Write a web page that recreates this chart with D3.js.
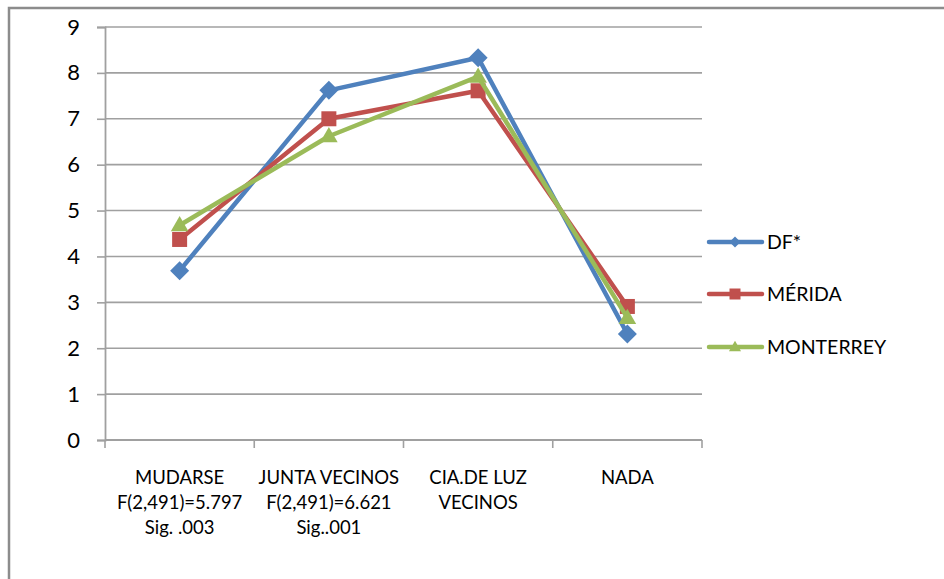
<!DOCTYPE html>
<html>
<head>
<meta charset="utf-8">
<script src="https://cdnjs.cloudflare.com/ajax/libs/d3/7.8.5/d3.min.js"></script>
<style>
  html, body { margin: 0; padding: 0; background: #ffffff; }
  svg { display: block; }
  text { font-family: Lato, "Open Sans", sans-serif; fill: #000; }
</style>
</head>
<body>
<svg id="chart" width="944" height="579"></svg>
<script>
// Category labels (multi-line, one array per category)
const categories = ["MUDARSE", "JUNTA VECINOS", "CIA.DE LUZ VECINOS", "NADA"];
const categoryLines = [
  ["MUDARSE", "F(2,491)=5.797", "Sig. .003"],
  ["JUNTA VECINOS", "F(2,491)=6.621", "Sig..001"],
  ["CIA.DE LUZ", "VECINOS"],
  ["NADA"]
];

// Mean scores per city
const seriesNames = ["DF*", "MÉRIDA", "MONTERREY"];
const dfValues = [3.69, 7.62, 8.33, 2.31];
const meridaValues = [4.37, 7.00, 7.61, 2.91];
const monterreyValues = [4.68, 6.62, 7.92, 2.66];

const yTicks = [0, 1, 2, 3, 4, 5, 6, 7, 8, 9];

const colors = ["#4F81BD", "#C0504D", "#9BBB59"];
const markers = ["diamond", "square", "triangle"];

const series = [
  { name: seriesNames[0], values: dfValues, color: colors[0], marker: markers[0] },
  { name: seriesNames[1], values: meridaValues, color: colors[1], marker: markers[1] },
  { name: seriesNames[2], values: monterreyValues, color: colors[2], marker: markers[2] }
];

const svg = d3.select("#chart");
const plot = { left: 105, right: 702, top: 27, bottom: 440 };

// Outer frame (runs off the right and bottom edges)
svg.append("path")
  .attr("d", "M9,600 L9,8 L960,8")
  .attr("fill", "none")
  .attr("stroke", "#8c8c8c")
  .attr("stroke-width", 2.5);

const x = d3.scaleBand().domain(categories).range([plot.left, plot.right]).paddingInner(0).paddingOuter(0);
const y = d3.scaleLinear().domain([0, 9]).range([plot.bottom, plot.top]);
const cx = c => x(c) + x.bandwidth() / 2;

const gridColor = "#a0a0a0";

// Horizontal gridlines
svg.append("g").selectAll("line")
  .data(yTicks.filter(t => t > 0))
  .join("line")
  .attr("x1", plot.left).attr("x2", plot.right)
  .attr("y1", d => y(d)).attr("y2", d => y(d))
  .attr("stroke", gridColor).attr("stroke-width", 1.6);

// Y axis
const yAxis = svg.append("g")
  .attr("transform", `translate(${plot.left},0)`)
  .call(d3.axisLeft(y).tickValues(yTicks).tickFormat(d3.format("d")).tickSize(8).tickPadding(17));
yAxis.attr("font-size", null).attr("font-family", null);
yAxis.select(".domain").attr("stroke", gridColor).attr("stroke-width", 1.8);
yAxis.selectAll(".tick line").attr("stroke", gridColor).attr("stroke-width", 1.6);
yAxis.selectAll(".tick text")
  .style("font-family", "Lato, sans-serif")
  .style("font-size", "22px").attr("fill", "#000");

// X axis with boundary ticks between categories
const xAxis = svg.append("g")
  .attr("transform", `translate(0,${plot.bottom})`);
xAxis.append("line")
  .attr("x1", plot.left).attr("x2", plot.right)
  .attr("stroke", gridColor).attr("stroke-width", 1.8);
const boundaries = categories.map(c => x(c)).concat([plot.right]);
xAxis.selectAll("line.tick")
  .data(boundaries)
  .join("line")
  .attr("class", "tick")
  .attr("x1", d => d).attr("x2", d => d)
  .attr("y1", 0).attr("y2", 8)
  .attr("stroke", gridColor).attr("stroke-width", 1.6);

// Category labels
const labelG = svg.append("g");
categories.forEach((c, i) => {
  const t = labelG.append("text")
    .attr("x", cx(c))
    .attr("y", 484)
    .attr("text-anchor", "middle")
    .attr("font-size", 18.5);
  categoryLines[i].forEach((line, j) => {
    t.append("tspan")
      .attr("x", cx(c))
      .attr("dy", j === 0 ? 0 : 25)
      .text(line);
  });
});

// Marker shapes
function markerPath(type, s) {
  if (type === "diamond") return `M0,${-s} L${s},0 L0,${s} L${-s},0 Z`;
  if (type === "square") return `M${-s},${-s} L${s},${-s} L${s},${s} L${-s},${s} Z`;
  const h = s * 1.9;
  return `M0,${-h * 0.6} L${s * 1.1},${h * 0.4} L${-s * 1.1},${h * 0.4} Z`;
}

const line = d3.line()
  .x((d, i) => cx(categories[i]))
  .y(d => y(d));

const markerSize = { diamond: 9.5, square: 7.5, triangle: 8 };

const seriesG = svg.append("g");
series.forEach(s => {
  const g = seriesG.append("g");
  g.append("path")
    .attr("d", line(s.values))
    .attr("fill", "none")
    .attr("stroke", s.color)
    .attr("stroke-width", 4.5)
    .attr("stroke-linejoin", "round");
  g.selectAll("path.marker")
    .data(s.values)
    .join("path")
    .attr("class", "marker")
    .attr("transform", (d, i) => `translate(${cx(categories[i])},${y(d)})`)
    .attr("d", markerPath(s.marker, markerSize[s.marker]))
    .attr("fill", s.color);
});

// Legend
const legendY = [242, 294, 347];
const legend = svg.append("g");
series.forEach((s, i) => {
  const g = legend.append("g").attr("transform", `translate(0,${legendY[i]})`);
  g.append("line")
    .attr("x1", 709).attr("x2", 762)
    .attr("stroke", s.color).attr("stroke-width", 4.5)
    .attr("stroke-linecap", "round");
  g.append("path")
    .attr("transform", "translate(735,0)")
    .attr("d", markerPath(s.marker, s.marker === "diamond" ? 5.5 : 5.5))
    .attr("fill", s.color);
  g.append("text")
    .attr("x", 767).attr("y", 0)
    .attr("dy", "0.36em")
    .attr("font-size", 19.5)
    .text(s.name);
});
</script>
</body>
</html>
